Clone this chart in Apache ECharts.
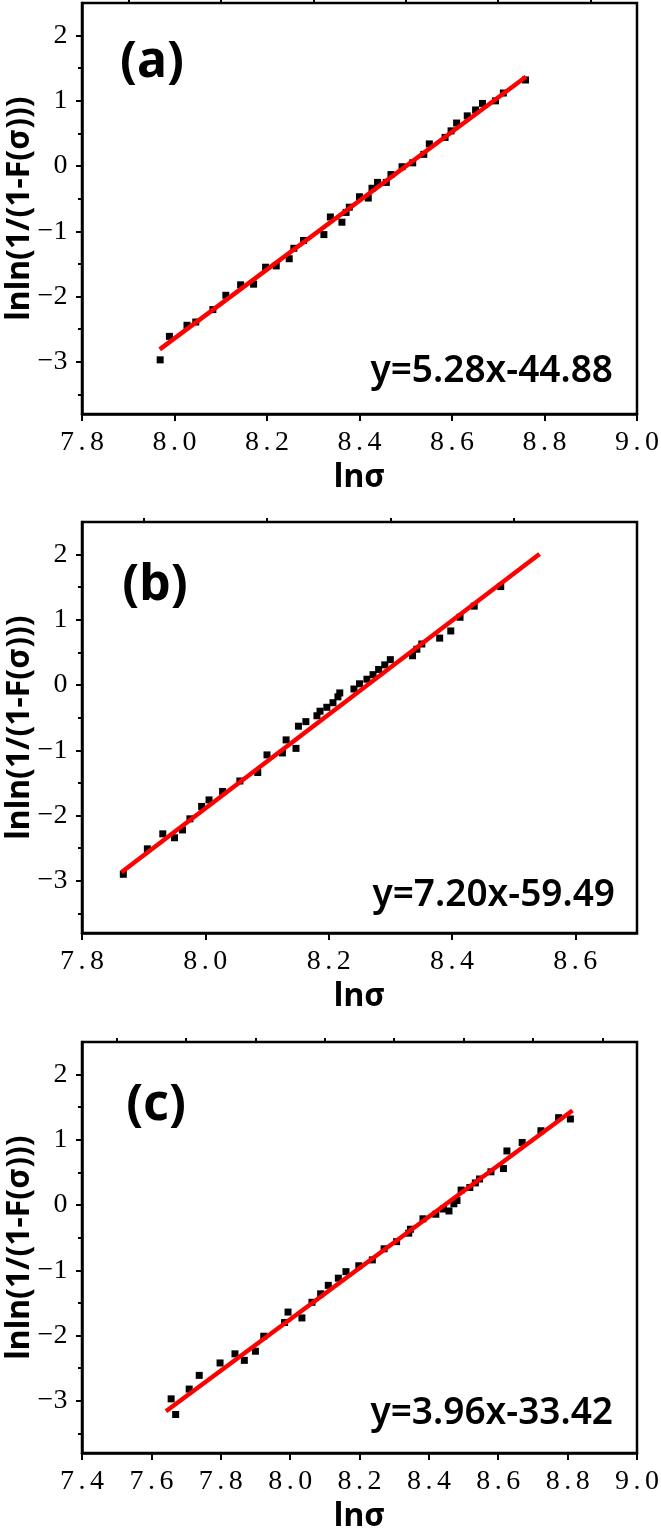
<!DOCTYPE html>
<html>
<head>
<meta charset="utf-8">
<script src="https://cdn.jsdelivr.net/npm/echarts@6/dist/echarts.min.js"></script>
<style>
html,body{margin:0;padding:0;background:#fff;}
#chart{width:661px;height:1530px;}
</style>
</head>
<body>
<div id="chart"></div>
<script>
// ---------- data ----------
const pointsA = [
  [7.969,-2.97],[7.989,-2.61],[8.027,-2.44],[8.046,-2.39],[8.083,-2.20],[8.111,-1.98],
  [8.143,-1.82],[8.171,-1.81],[8.197,-1.55],[8.220,-1.53],[8.248,-1.42],[8.258,-1.26],
  [8.279,-1.14],[8.323,-1.05],[8.337,-0.78],[8.362,-0.86],[8.371,-0.71],[8.378,-0.63],
  [8.400,-0.47],[8.419,-0.49],[8.427,-0.34],[8.439,-0.25],[8.458,-0.25],[8.468,-0.13],
  [8.492,-0.01],[8.515,0.05],[8.539,0.18],[8.551,0.34],[8.585,0.44],[8.598,0.54],
  [8.610,0.66],[8.633,0.77],[8.651,0.86],[8.666,0.96],[8.694,1.00],[8.711,1.12],
  [8.759,1.32]
];
const pointsB = [
  [7.867,-2.90],[7.906,-2.51],[7.931,-2.28],[7.950,-2.34],[7.963,-2.22],[7.975,-2.05],
  [7.994,-1.86],[8.006,-1.76],[8.028,-1.63],[8.056,-1.47],[8.085,-1.34],[8.100,-1.07],
  [8.125,-1.04],[8.131,-0.84],[8.147,-0.97],[8.151,-0.63],[8.163,-0.56],[8.181,-0.47],
  [8.186,-0.40],[8.197,-0.34],[8.207,-0.27],[8.215,-0.18],[8.218,-0.12],[8.241,-0.06],
  [8.250,0.02],[8.262,0.09],[8.272,0.16],[8.281,0.24],[8.291,0.31],[8.300,0.39],
  [8.336,0.45],[8.343,0.55],[8.351,0.63],[8.380,0.72],[8.398,0.83],[8.413,1.04],
  [8.436,1.21],[8.479,1.51]
];
const pointsC = [
  [7.657,-2.97],[7.670,-3.21],[7.709,-2.82],[7.738,-2.61],[7.798,-2.42],[7.841,-2.28],
  [7.868,-2.38],[7.900,-2.24],[7.924,-2.01],[7.984,-1.80],[7.994,-1.64],[8.034,-1.73],
  [8.063,-1.49],[8.088,-1.36],[8.110,-1.23],[8.139,-1.12],[8.161,-1.02],[8.198,-0.93],
  [8.237,-0.84],[8.271,-0.67],[8.307,-0.56],[8.342,-0.43],[8.347,-0.37],[8.383,-0.21],
  [8.420,-0.14],[8.442,-0.06],[8.458,-0.09],[8.472,0.02],[8.481,0.07],[8.493,0.23],
  [8.518,0.27],[8.534,0.34],[8.546,0.40],[8.579,0.51],[8.615,0.56],[8.625,0.83],
  [8.669,0.96],[8.723,1.14],[8.774,1.34],[8.808,1.32]
];
const fitA = [[7.968,-2.81],[8.760,1.37]];
const fitB = [[7.864,-2.87],[8.542,2.01]];
const fitC = [[7.642,-3.16],[8.814,1.45]];

const equations = ['y=5.28x-44.88','y=7.20x-59.49','y=3.96x-33.42'];
const panelLabels = ['(a)','(b)','(c)'];

const xRangeA = [7.8, 9.0];
const xRangeB = [7.8, 8.7];
const xRangeC = [7.4, 9.0];
const yRange = [-3.8, 2.5];

const xTicksA = [7.8, 8.0, 8.2, 8.4, 8.6, 8.8, 9.0];
const xMinorA = [7.9, 8.1, 8.3, 8.5, 8.7, 8.9];
const xTicksB = [7.8, 8.0, 8.2, 8.4, 8.6];
const xMinorB = [7.9, 8.1, 8.3, 8.5];
const xTicksC = [7.4, 7.6, 7.8, 8.0, 8.2, 8.4, 8.6, 8.8, 9.0];
const xMinorC = [7.5, 7.7, 7.9, 8.1, 8.3, 8.5, 8.7, 8.9];
const yTicks = [-3, -2, -1, 0, 1, 2];
const yMinor = [-3.5, -2.5, -1.5, -0.5, 0.5, 1.5];

const xTitle = 'lnσ';
const yTitle = 'lnln(1/(1-F(σ)))';

// ---------- layout ----------
const gridTops = [3, 522, 1042];
const GL = 82, GW = 555, GH = 411;

const panels = [
  {pts: pointsA, fit: fitA, xr: xRangeA, xt: xTicksA, xm: xMinorA},
  {pts: pointsB, fit: fitB, xr: xRangeB, xt: xTicksB, xm: xMinorB},
  {pts: pointsC, fit: fitC, xr: xRangeC, xt: xTicksC, xm: xMinorC}
];

const labelFont = '"Liberation Serif", "DejaVu Serif", serif';
const sansFont = '"Noto Sans", "Liberation Sans", sans-serif';

// half-width cell per character, like the reference's tick font
const cellRich = {c: {width: 15, align: 'center', fontFamily: labelFont, fontSize: 28, color: '#000'}};
const cells = s => s.split('').map(ch => '{c|' + ch + '}').join('');

const grid = [], xAxis = [], yAxis = [], series = [], graphic = [];

panels.forEach((p, i) => {
  grid.push({left: GL, top: gridTops[i], width: GW, height: GH,
    containLabel: false, outerBoundsMode: 'none',
    show: true, borderColor: '#000', borderWidth: 2.5, backgroundColor: 'transparent'});
  xAxis.push({
    type: 'value', gridIndex: i, min: p.xr[0], max: p.xr[1],
    name: xTitle, nameLocation: 'middle', nameGap: 48, nameMoveOverlap: false,
    nameTextStyle: {fontFamily: sansFont, fontWeight: 'bold', fontSize: 32, color: '#000'},
    axisLine: {show: true, onZero: false, lineStyle: {color: '#000', width: 2.5}},
    axisTick: {show: true, inside: false, length: 7, customValues: p.xt, lineStyle: {color: '#000', width: 2}},
    axisLabel: {show: true, margin: 15, customValues: p.xt, color: '#000',
      fontFamily: labelFont, fontSize: 28, rich: cellRich,
      formatter: v => cells(Number(v).toFixed(1))},
    splitLine: {show: false}
  });
  xAxis.push({
    type: 'value', gridIndex: i, min: p.xr[0], max: p.xr[1],
    axisLine: {show: false, onZero: false},
    axisTick: {show: true, inside: false, length: 4, customValues: p.xm, lineStyle: {color: '#000', width: 2}},
    axisLabel: {show: false}, splitLine: {show: false}
  });
  yAxis.push({
    type: 'value', gridIndex: i, position: 'left', min: yRange[0], max: yRange[1],
    name: yTitle, nameLocation: 'middle', nameGap: 46, nameRotate: 90, nameMoveOverlap: false,
    nameTextStyle: {fontFamily: sansFont, fontWeight: 'bold', fontSize: 32, color: '#000'},
    axisLine: {show: true, onZero: false, lineStyle: {color: '#000', width: 2.5}},
    axisTick: {show: true, inside: false, length: 6, customValues: yTicks, lineStyle: {color: '#000', width: 2}},
    axisLabel: {show: true, margin: 14, customValues: yTicks, color: '#000',
      fontFamily: labelFont, fontSize: 28, rich: cellRich,
      formatter: v => cells(v < 0 ? '\u2212' + Math.abs(v) : String(v))},
    splitLine: {show: false}
  });
  yAxis.push({
    type: 'value', gridIndex: i, position: 'left', offset: 0, min: yRange[0], max: yRange[1],
    axisLine: {show: false, onZero: false},
    axisTick: {show: true, inside: false, length: 4, customValues: yMinor, lineStyle: {color: '#000', width: 2}},
    axisLabel: {show: false}, splitLine: {show: false}
  });
  series.push({
    type: 'scatter', xAxisIndex: 2 * i, yAxisIndex: 2 * i,
    symbol: 'rect', symbolSize: 7, itemStyle: {color: '#000', opacity: 1},
    data: p.pts, z: 2, silent: true
  });
  series.push({
    type: 'line', xAxisIndex: 2 * i, yAxisIndex: 2 * i,
    showSymbol: false, symbol: 'none', lineStyle: {color: '#ff0000', width: 4.5},
    data: p.fit, z: 3, silent: true
  });
});

const eqPos = [[613, 371], [615, 895], [613, 1413]];
const lbPos = [[152, 63], [155, 586], [156, 1106]];
for (let i = 0; i < 3; i++) {
  graphic.push({type: 'text', x: eqPos[i][0], y: eqPos[i][1], z: 10,
    style: {text: equations[i], fill: '#000', textAlign: 'right', textVerticalAlign: 'middle',
      font: '600 37px "Noto Sans", "Liberation Sans", sans-serif'}});
  graphic.push({type: 'text', x: lbPos[i][0], y: lbPos[i][1], z: 10,
    style: {text: panelLabels[i], fill: '#000', textAlign: 'center', textVerticalAlign: 'middle',
      font: 'bold 50px "Noto Sans", "Liberation Sans", sans-serif'}});
}

const chart = echarts.init(document.getElementById('chart'), null, {renderer: 'canvas'});
chart.setOption({
  animation: false,
  backgroundColor: '#fff',
  grid, xAxis, yAxis, series, graphic
});
</script>
</body>
</html>
